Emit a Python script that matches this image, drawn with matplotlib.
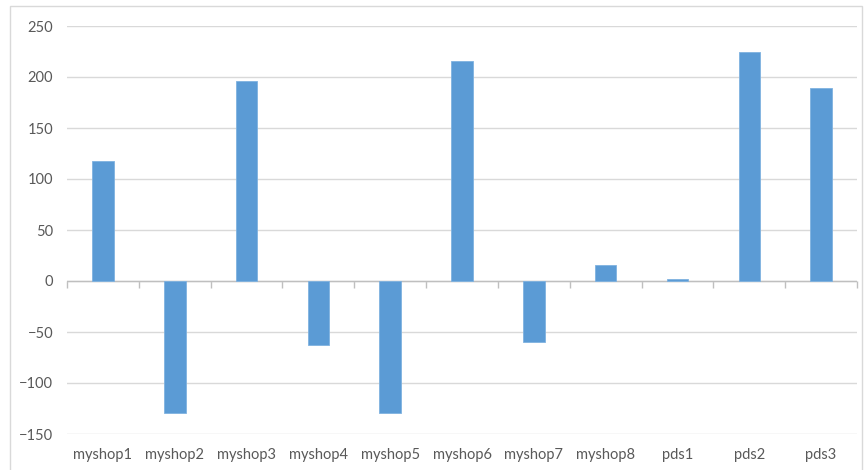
import matplotlib
matplotlib.use("Agg")
import matplotlib.pyplot as plt
from matplotlib.patches import Rectangle
import numpy as np

categories = ["myshop1", "myshop2", "myshop3", "myshop4", "myshop5", "myshop6",
              "myshop7", "myshop8", "pds1", "pds2", "pds3"]
values = [118, -129, 196, -63, -129, 216, -60, 16, 2, 225, 189]
y_ticks = [-150, -100, -50, 0, 50, 100, 150, 200, 250]

bar_color = "#5b9bd5"
grid_color = "#d9d9d9"
text_color = "#595959"

plt.rcParams["font.family"] = ["Lato", "DejaVu Sans"]

fig = plt.figure(figsize=(8.66, 4.70), dpi=100)
fig.patch.set_facecolor("white")
# light frame around the chart area
fig.add_artist(Rectangle((10 / 866, -0.01), 852 / 866, 1 - 6 / 470 + 0.01,
                         transform=fig.transFigure, fill=False,
                         edgecolor="#d9d9d9", linewidth=1.0))

ax = fig.add_axes([67 / 866, 1 - 434 / 470, 790 / 866, 408 / 470])
x = np.arange(len(categories))
ax.bar(x, values, width=0.3, color=bar_color, edgecolor="#7fb2e0",
       linewidth=0.6, zorder=3)

ax.set_xlim(-0.5, len(categories) - 0.5)
ax.set_ylim(y_ticks[0], y_ticks[-1])
ax.set_yticks(y_ticks)
ax.yaxis.grid(True, color=grid_color, linewidth=1.0, zorder=0)
ax.set_axisbelow(True)

for s in ax.spines.values():
    s.set_visible(False)

ax.tick_params(axis="y", length=0, pad=10, labelsize=10.5, labelcolor=text_color)
ax.set_xticks(x)
ax.set_xticklabels(categories)
ax.tick_params(axis="x", length=0, pad=10, labelsize=10.5, labelcolor=text_color)

# category axis along zero with tick marks between categories
ax.axhline(0, color="#bfbfbf", linewidth=1.0, zorder=2)
zero_axis = ax.secondary_xaxis((0 - y_ticks[0]) / (y_ticks[-1] - y_ticks[0]))
zero_axis.spines["bottom"].set_visible(False)
zero_axis.set_xticks(np.arange(-0.5, len(categories)))
zero_axis.tick_params(axis="x", direction="out", length=5, width=1,
                      color="#bfbfbf", labelbottom=False)

fig.savefig("out.png", dpi=100)
